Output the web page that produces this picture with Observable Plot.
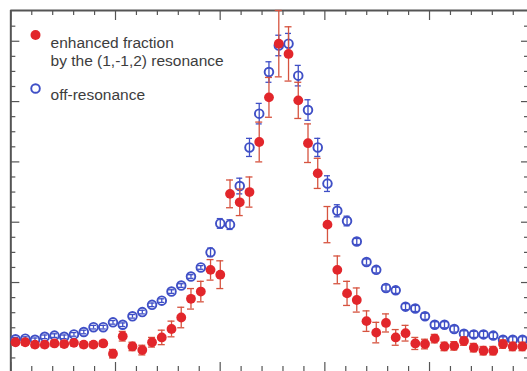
<!DOCTYPE html>
<html><head><meta charset="utf-8">
<script src="https://cdn.jsdelivr.net/npm/d3@7"></script>
<script src="https://cdn.jsdelivr.net/npm/@observablehq/plot@0.6"></script>
<style>
html,body{margin:0;padding:0;background:#fff;}
#chart{width:527px;height:371px;overflow:hidden;}
</style></head><body><div id="chart"></div>
<script>
// x positions of the measurement points (axis units, major tick every 10)
const xValues = [0.45,1.38,2.31,3.24,4.17,5.10,6.03,6.97,7.90,8.83,9.76,10.69,11.62,12.56,13.49,14.42,15.35,16.28,17.21,18.15,19.08,20.01,20.94,21.87,22.80,23.73,24.66,25.60,26.53,27.46,28.39,29.32,30.25,31.19,32.12,33.05,33.98,34.91,35.84,36.77,37.71,38.64,39.57,40.50,41.43,42.36,43.29,44.23,45.16,46.09,47.02,47.95,48.88];
// enhanced fraction by the (1,-1,2) resonance
const enhanced = [0.01,0.01,-0.03,-0.03,-0.01,-0.02,0.00,-0.03,-0.03,-0.01,-0.18,0.11,-0.06,-0.12,0.01,0.09,0.23,0.42,0.73,0.85,1.21,1.13,2.47,2.33,2.50,3.33,4.07,4.96,4.79,4.02,3.31,2.81,1.96,1.21,0.82,0.71,0.36,0.17,0.33,0.09,0.16,-0.01,-0.02,0.07,-0.06,-0.05,0.03,-0.08,-0.13,-0.13,-0.02,-0.06,-0.06];
const enhancedErr = [0.05,0.05,0.05,0.05,0.05,0.05,0.05,0.05,0.05,0.05,0.07,0.08,0.07,0.08,0.08,0.12,0.13,0.17,0.17,0.17,0.17,0.23,0.23,0.22,0.25,0.33,0.33,0.55,0.45,0.30,0.32,0.25,0.30,0.23,0.20,0.20,0.17,0.17,0.15,0.13,0.13,0.10,0.08,0.07,0.07,0.07,0.07,0.07,0.07,0.07,0.07,0.07,0.07];
// off-resonance
const offRes = [0.06,0.07,0.05,0.10,0.12,0.10,0.14,0.18,0.26,0.26,0.34,0.30,0.44,0.51,0.63,0.70,0.85,0.95,1.10,1.25,1.50,1.98,1.96,2.60,3.24,3.80,4.49,4.93,4.96,4.43,3.86,3.24,2.64,2.19,2.02,1.68,1.34,1.21,0.91,0.87,0.60,0.57,0.44,0.30,0.30,0.23,0.15,0.14,0.14,0.12,0.05,0.05,0.05];
const offResErr = [0.03,0.03,0.03,0.03,0.03,0.03,0.03,0.03,0.03,0.03,0.03,0.03,0.03,0.03,0.03,0.03,0.03,0.03,0.03,0.03,0.07,0.08,0.08,0.13,0.15,0.17,0.17,0.17,0.17,0.17,0.17,0.15,0.13,0.10,0.08,0.05,0.05,0.05,0.05,0.05,0.05,0.05,0.05,0.05,0.05,0.05,0.05,0.05,0.05,0.05,0.05,0.05,0.05];

const xMajorTicks = [0,10,20,30,40];
const xMinorTicks = [2,4,6,8,12,14,16,18,22,24,26,28,32,34,36,38,42,44,46,48];
const yMajorTicks = [0,1,2,3,4,5];
const yMinorTicks = [-0.25,0.25,0.5,0.75,1.25,1.5,1.75,2.25,2.5,2.75,3.25,3.5,3.75,4.25,4.5,4.75,5.25];
const legendLabels = ["enhanced fraction", "by the (1,-1,2) resonance", "off-resonance"];

const xDomain = [0, 49.36];
const yDomain = [-0.475, 5.51];

const RED = "#e2262b", RED_BAR = "#d6533f", BLUE = "#3f4fc6", AXIS = "#555";
const W = 527, H = 371, mL = 10.33, mT = 10;
const frameW = W - mL, frameH = H - mT;

const redData = xValues.map((x, i) => ({x, y: enhanced[i], lo: enhanced[i] - enhancedErr[i], hi: enhanced[i] + enhancedErr[i]}));
const blueData = xValues.map((x, i) => ({x, y: offRes[i], lo: offRes[i] - offResErr[i], hi: offRes[i] + offResErr[i]}));

const font = "'Liberation Sans', Arial, Helvetica, sans-serif";
const tickStyle = {stroke: AXIS, strokeWidth: 1.2};

const plot = Plot.plot({
  width: W, height: H,
  marginLeft: mL, marginTop: mT, marginRight: 0, marginBottom: 0,
  x: {domain: xDomain, axis: null},
  y: {domain: yDomain, axis: null},
  style: {background: "#fff", fontFamily: font},
  marks: [
    // frame (top and left visible)
    Plot.ruleY([yDomain[1]], {stroke: AXIS, strokeWidth: 2}),
    Plot.ruleX([xDomain[0]], {stroke: AXIS, strokeWidth: 2}),
    // bottom ticks (inward)
    Plot.tickX(xMajorTicks, {x: d => d, insetTop: frameH - 9, ...tickStyle}),
    Plot.tickX(xMinorTicks, {x: d => d, insetTop: frameH - 5, ...tickStyle}),
    // top ticks
    Plot.tickX(xMajorTicks, {x: d => d, insetBottom: frameH - 10, ...tickStyle}),
    Plot.tickX(xMinorTicks, {x: d => d, insetBottom: frameH - 5, ...tickStyle}),
    // left ticks
    Plot.tickY(yMajorTicks, {y: d => d, insetRight: frameW - 9, ...tickStyle}),
    Plot.tickY(yMinorTicks, {y: d => d, insetRight: frameW - 5, ...tickStyle}),
    // right ticks
    Plot.tickY(yMajorTicks, {y: d => d, insetLeft: frameW - 6, ...tickStyle}),
    Plot.tickY(yMinorTicks, {y: d => d, insetLeft: frameW - 3, ...tickStyle}),

    // off-resonance (open blue circles with error bars)
    Plot.ruleX(blueData, {x: "x", y1: "lo", y2: "hi", stroke: BLUE, strokeWidth: 1.3}),
    Plot.ruleY(blueData, {y: "hi", x1: "x", x2: "x", insetLeft: -3, insetRight: -3, stroke: BLUE, strokeWidth: 1.3}),
    Plot.ruleY(blueData, {y: "lo", x1: "x", x2: "x", insetLeft: -3, insetRight: -3, stroke: BLUE, strokeWidth: 1.3}),
    Plot.dot(blueData, {x: "x", y: "y", r: 4.3, stroke: BLUE, strokeWidth: 1.9, fill: "none"}),

    // enhanced fraction (filled red circles with error bars)
    Plot.ruleX(redData, {x: "x", y1: "lo", y2: "hi", stroke: RED_BAR, strokeWidth: 1.3}),
    Plot.ruleY(redData, {y: "hi", x1: "x", x2: "x", insetLeft: -3.5, insetRight: -3.5, stroke: RED_BAR, strokeWidth: 1.3}),
    Plot.ruleY(redData, {y: "lo", x1: "x", x2: "x", insetLeft: -3.5, insetRight: -3.5, stroke: RED_BAR, strokeWidth: 1.3}),
    Plot.dot(redData, {x: "x", y: "y", r: 4.9, fill: RED, stroke: "none"}),

    // legend
    Plot.dot([legendLabels[0]], {frameAnchor: "top-left", dx: 24.7, dy: 24.5, r: 5, fill: RED}),
    Plot.text([legendLabels[0]], {text: d => d, frameAnchor: "top-left", dx: 39.7, dy: 26.5, textAnchor: "start", fontSize: 15.5, fill: "#3d3d3d"}),
    Plot.text([legendLabels[1]], {text: d => d, frameAnchor: "top-left", dx: 39.7, dy: 44.8, textAnchor: "start", fontSize: 15.5, fill: "#3d3d3d"}),
    Plot.dot([legendLabels[2]], {frameAnchor: "top-left", dx: 24.7, dy: 78, r: 4.3, stroke: BLUE, strokeWidth: 1.9, fill: "none"}),
    Plot.text([legendLabels[2]], {text: d => d, frameAnchor: "top-left", dx: 39.7, dy: 78.3, textAnchor: "start", fontSize: 15.5, fill: "#3d3d3d"})
  ]
});
document.getElementById("chart").appendChild(plot);
</script>
</body></html>
